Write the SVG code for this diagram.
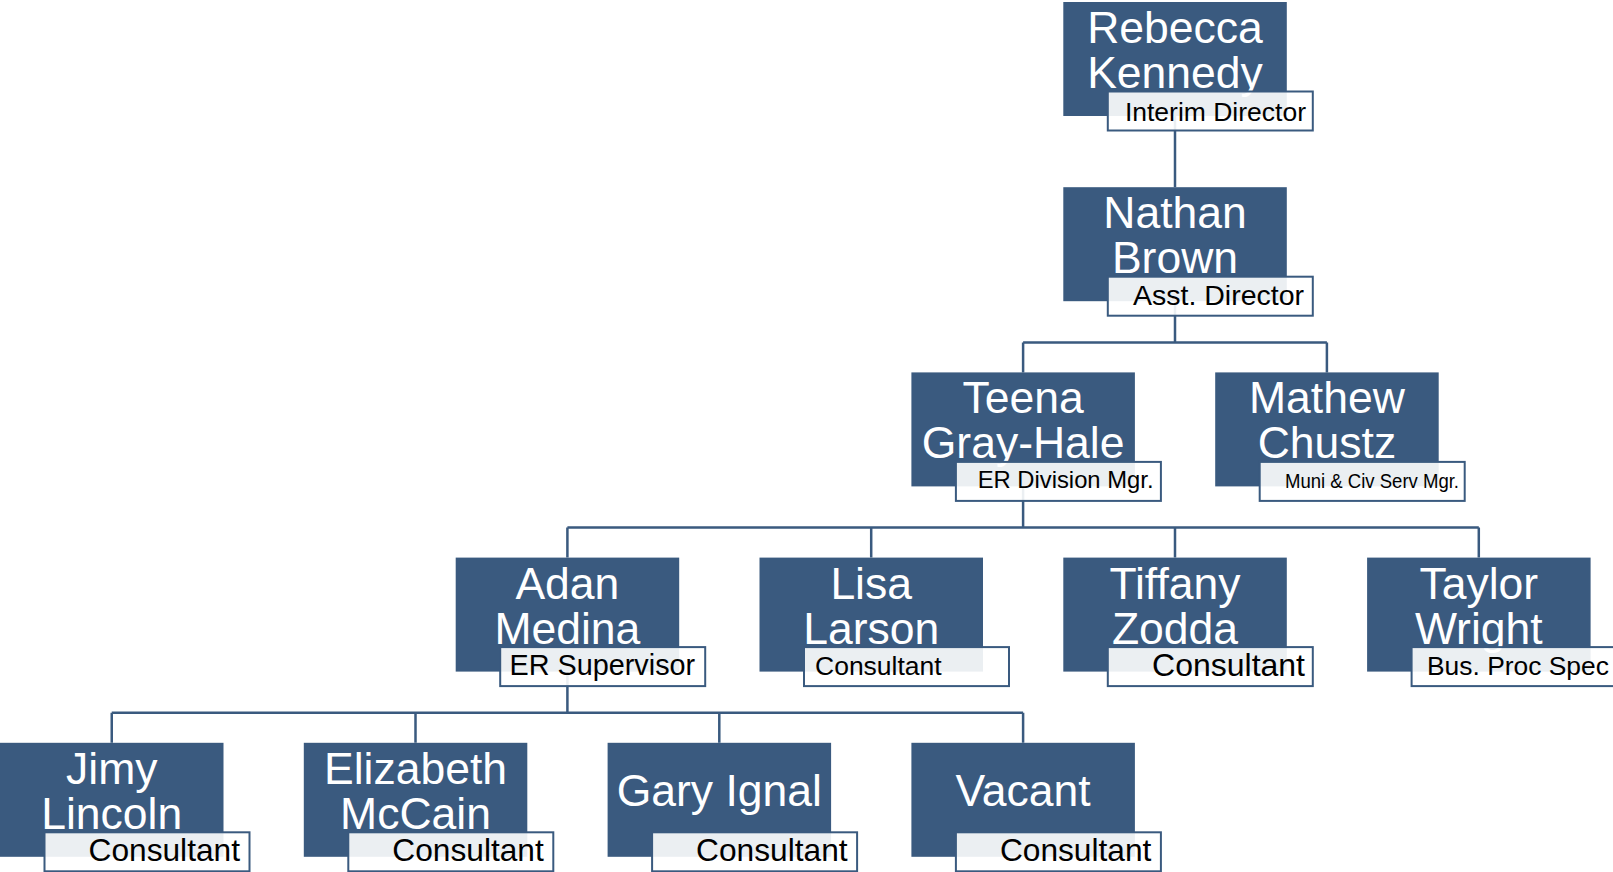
<svg xmlns="http://www.w3.org/2000/svg" width="1613" height="872" viewBox="0 0 1613 872">
<style>
.box{fill:#3a5a7f;}
.lbl{fill:#ffffff;fill-opacity:0.9;stroke:#3a5a7f;stroke-width:2;}
.nm{font-family:"Liberation Sans",Arial,sans-serif;font-size:44.5px;fill:#ffffff;text-anchor:middle;}
.t{font-family:"Liberation Sans",Arial,sans-serif;fill:#000000;}
.e{text-anchor:end;}
.conn{fill:none;stroke:#3a5a7f;stroke-width:2.5;}
</style>
<rect width="1613" height="872" fill="#ffffff"/>
<g id="connectors" class="conn">
<path d="M1175 116 V187.2"/>
<path d="M1175 301.2 V342.4 M1023.1 342.4 H1326.9 M1023.1 342.4 V372.4 M1326.9 342.4 V372.4"/>
<path d="M1023.1 486.4 V527.6 M567.4 527.6 H1478.8 M567.4 527.6 V557.6 M871.2 527.6 V557.6 M1175 527.6 V557.6 M1478.8 527.6 V557.6"/>
<path d="M567.4 671.6 V712.8 M111.75 712.8 H1023.1 M111.75 712.8 V742.8 M415.5 712.8 V742.8 M719.3 712.8 V742.8 M1023.1 712.8 V742.8"/>
</g>
<g id="rebecca">
<rect class="box" x="1063.3" y="2" width="223.5" height="114"/>
<text class="nm" x="1175" y="43">Rebecca</text>
<text class="nm" x="1175" y="88">Kennedy</text>
<rect class="lbl" x="1107.8" y="91.5" width="205" height="39"/>
<text class="t e" x="1306" y="120.5" font-size="26.5">Interim Director</text>
</g>
<g id="nathan">
<rect class="box" x="1063.3" y="187.2" width="223.5" height="114"/>
<text class="nm" x="1175" y="228.2">Nathan</text>
<text class="nm" x="1175" y="273.2">Brown</text>
<rect class="lbl" x="1107.8" y="276.7" width="205" height="39"/>
<text class="t e" x="1304" y="304.7" font-size="28.5">Asst. Director</text>
</g>
<g id="teena">
<rect class="box" x="911.4" y="372.4" width="223.5" height="114"/>
<text class="nm" x="1023.1" y="413.4">Teena</text>
<text class="nm" x="1023.1" y="458.4">Gray-Hale</text>
<rect class="lbl" x="955.9" y="461.9" width="205" height="39"/>
<text class="t e" x="1153.5" y="488.4" font-size="23.8">ER Division Mgr.</text>
</g>
<g id="mathew">
<rect class="box" x="1215.2" y="372.4" width="223.5" height="114"/>
<text class="nm" x="1326.9" y="413.4">Mathew</text>
<text class="nm" x="1326.9" y="458.4">Chustz</text>
<rect class="lbl" x="1259.7" y="461.9" width="205" height="39"/>
<text class="t e" x="1459" y="488" font-size="20" textLength="174" lengthAdjust="spacingAndGlyphs">Muni &amp; Civ Serv Mgr.</text>
</g>
<g id="adan">
<rect class="box" x="455.7" y="557.6" width="223.5" height="114"/>
<text class="nm" x="567.4" y="598.6">Adan</text>
<text class="nm" x="567.4" y="643.6">Medina</text>
<rect class="lbl" x="500.2" y="647.1" width="205" height="39"/>
<text class="t" x="509.5" y="675.1" font-size="28.8">ER Supervisor</text>
</g>
<g id="lisa">
<rect class="box" x="759.5" y="557.6" width="223.5" height="114"/>
<text class="nm" x="871.2" y="598.6">Lisa</text>
<text class="nm" x="871.2" y="643.6">Larson</text>
<rect class="lbl" x="804" y="647.1" width="205" height="39"/>
<text class="t" x="815" y="675.1" font-size="26.5">Consultant</text>
</g>
<g id="tiffany">
<rect class="box" x="1063.3" y="557.6" width="223.5" height="114"/>
<text class="nm" x="1175" y="598.6">Tiffany</text>
<text class="nm" x="1175" y="643.6">Zodda</text>
<rect class="lbl" x="1107.8" y="647.1" width="205" height="39"/>
<text class="t e" x="1305" y="676" font-size="32">Consultant</text>
</g>
<g id="taylor">
<rect class="box" x="1367.1" y="557.6" width="223.5" height="114"/>
<text class="nm" x="1478.8" y="598.6">Taylor</text>
<text class="nm" x="1478.8" y="643.6">Wright</text>
<rect class="lbl" x="1411.6" y="647.1" width="205" height="39"/>
<text class="t" x="1427" y="675.1" font-size="26.4">Bus. Proc Spec</text>
</g>
<g id="jimy">
<rect class="box" x="0" y="742.8" width="223.5" height="114"/>
<text class="nm" x="111.75" y="783.8">Jimy</text>
<text class="nm" x="111.75" y="828.8">Lincoln</text>
<rect class="lbl" x="44.5" y="832.3" width="205" height="39"/>
<text class="t e" x="240" y="861.3" font-size="31.7">Consultant</text>
</g>
<g id="elizabeth">
<rect class="box" x="303.8" y="742.8" width="223.5" height="114"/>
<text class="nm" x="415.5" y="783.8">Elizabeth</text>
<text class="nm" x="415.5" y="828.8">McCain</text>
<rect class="lbl" x="348.3" y="832.3" width="205" height="39"/>
<text class="t e" x="543.8" y="861.3" font-size="31.7">Consultant</text>
</g>
<g id="gary">
<rect class="box" x="607.6" y="742.8" width="223.5" height="114"/>
<text class="nm" x="719.3" y="805.5">Gary Ignal</text>
<rect class="lbl" x="652.1" y="832.3" width="205" height="39"/>
<text class="t e" x="847.6" y="861.3" font-size="31.7">Consultant</text>
</g>
<g id="vacant">
<rect class="box" x="911.4" y="742.8" width="223.5" height="114"/>
<text class="nm" x="1023.1" y="805.5">Vacant</text>
<rect class="lbl" x="955.9" y="832.3" width="205" height="39"/>
<text class="t e" x="1151.4" y="861.3" font-size="31.7">Consultant</text>
</g>
</svg>
